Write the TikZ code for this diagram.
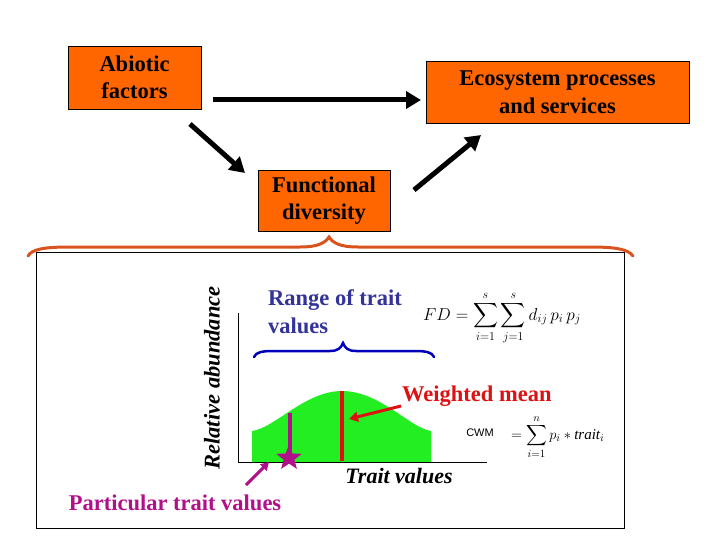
\documentclass[tikz,border=0pt]{standalone}
\usepackage{amsmath}
\usepackage{fontspec}
\setmainfont{Liberation Serif}[BoldFont={Liberation Serif Bold}, ItalicFont={Liberation Serif Italic}, BoldItalicFont={Liberation Serif Bold Italic}]
\newfontfamily\timesf{Liberation Serif}[BoldFont={Liberation Serif Bold}, ItalicFont={Liberation Serif Italic}, BoldItalicFont={Liberation Serif Bold Italic}]
\newfontfamily\sansf{Liberation Sans}
\usetikzlibrary{arrows.meta,shapes.geometric}
\definecolor{boxorange}{HTML}{FF6600}
\definecolor{braceorange}{HTML}{D9531E}
\definecolor{curvegreen}{HTML}{22EE22}
\definecolor{meanred}{HTML}{DD1111}
\definecolor{purp}{HTML}{B0108A}
\definecolor{navy}{HTML}{333399}
\definecolor{braceblue}{HTML}{0000BB}
\tikzset{
  orangebox/.style={draw=black, line width=0.8pt, fill=boxorange, align=center, inner sep=0pt,
    font=\timesf\fontsize{22.5}{27.5}\selectfont\bfseries},
  bigarrow/.style={line width=5pt, -{Triangle[length=15pt,width=17pt]}},
  lbl/.style={inner sep=0pt, font=\timesf\fontsize{22.5}{28}\selectfont\bfseries},
}
\begin{document}
\begin{tikzpicture}[x=1pt,y=-1pt]
\useasboundingbox (0,0) rectangle (720,540);
% top boxes
\node[orangebox, minimum width=133pt, minimum height=63pt] (abio) at (134.5,77.5) {Abiotic\\factors};
\node[orangebox, minimum width=263pt, minimum height=62pt] (eco) at (557.5,92) {Ecosystem processes\\and services};
\node[orangebox, minimum width=132pt, minimum height=61pt] (fd) at (324,200.5) {Functional\\diversity};
\coordinate (h1) at (213,100); \coordinate (h2) at (421,100);
\coordinate (d1) at (190,124); \coordinate (d2) at (245,173);
\coordinate (u1) at (414,190); \coordinate (u2) at (481,135);
\draw[bigarrow] (h1) -- (h2);
\draw[bigarrow] (d1) -- (d2);
\draw[bigarrow] (u1) -- (u2);
% big brace
\draw[braceorange, line width=3pt, line cap=round]
 (28,256) .. controls (32,249) and (45,247) .. (70,247) -- (300,247)
 .. controls (318,247) and (325,243) .. (329,237)
 .. controls (333,243) and (340,247) .. (358,247) -- (590,247)
 .. controls (615,247) and (628,249) .. (633,256);
% inner panel
\node[draw=black, line width=0.8pt, minimum width=588pt, minimum height=276pt, inner sep=0pt] (panel) at (330,390) {};
% green curve
\fill[curvegreen] (252,462) -- (252,431) .. controls (275,428) and (305,391) .. (342,391)
  .. controls (380,391) and (410,428) .. (431,431) -- (431,462) -- cycle;
% axes
\coordinate (ax0) at (238,462); \coordinate (axy) at (238,313); \coordinate (axx) at (487,462);
\draw[line width=1pt] (axy) -- (ax0) -- (axx);
\node[lbl, font=\timesf\fontsize{22.5}{28}\selectfont\bfseries\itshape, rotate=90] (relab) at (212,378) {Relative abundance};
\node[lbl, font=\timesf\fontsize{22}{28}\selectfont\bfseries\itshape] (tv) at (399,476) {Trait values};
% range text & blue brace
\node[lbl, text=navy, align=left, anchor=north west] (range) at (268,289) {Range of trait\\values};
\draw[braceblue, line width=2.5pt, line cap=round]
 (254,357) .. controls (256,352) and (262,351) .. (275,351) -- (330,351)
 .. controls (338,351) and (341,348) .. (343,343)
 .. controls (345,348) and (348,351) .. (356,351) -- (413,351)
 .. controls (426,351) and (432,352) .. (434,357);
% FD formula
\node[inner sep=0pt, font=\fontsize{17}{19}\selectfont] (fdf) at (502,318) {$\displaystyle FD=\sum_{i=1}^{s}\sum_{j=1}^{s}d_{ij}\,p_i\,p_j$};
% weighted mean
\draw[meanred, line width=4pt] (342,391) -- (342,461);
\node[lbl, text=meanred, anchor=west] (wm) at (402,396) {Weighted mean};
\coordinate (wa1) at (401,406); \coordinate (wa2) at (349,419);
\draw[meanred, line width=3pt, -{Triangle[length=9pt,width=10pt]}] (wa1) -- (wa2);
% CWM
\node[inner sep=0pt, font=\sansf\fontsize{11}{13}\selectfont] (cwm) at (480,433) {CWM};
\node[inner sep=0pt, font=\fontsize{15}{17}\selectfont, anchor=west] (cwmf) at (511,437) {$\displaystyle =\sum_{i=1}^{n}p_i * \mathit{trait}_i$};
% particular trait
\draw[purp, line width=3.5pt] (290,413) -- (290,455);
\node[star, star points=5, star point ratio=2.4, fill=purp, inner sep=0pt, minimum size=27pt] (st) at (289,458) {};
\coordinate (pa1) at (246,485); \coordinate (pa2) at (269,462);
\draw[purp, line width=3pt, -{Triangle[length=8pt,width=9pt]}] (pa1) -- (pa2);
\node[lbl, text=purp] (part) at (175,503) {Particular trait values};
\end{tikzpicture}
\end{document}
